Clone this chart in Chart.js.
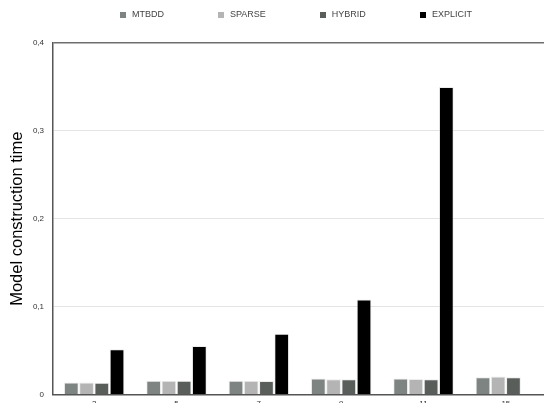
<!DOCTYPE html>
<html>
<head>
<meta charset="utf-8">
<script src="https://cdn.jsdelivr.net/npm/chart.js@4.4.0/dist/chart.umd.min.js"></script>
<style>
  body { margin: 0; overflow: hidden; background: #fff; font-family: "Liberation Sans", Arial, sans-serif; }
  #wrap { position: relative; width: 547px; height: 414px; }
  #legendList { position: absolute; top: 9px; left: 120px; margin: 0; padding: 0; list-style: none; display: flex; gap: 54px; }
  #legendList li { font-size: 9px; color: #444; display: flex; align-items: center; line-height: 11px; }
</style>
</head>
<body>
<div id="wrap">
  <ul id="legendList"></ul>
  <canvas id="buildChart"></canvas>
</div>
<script>
// model size parameter on the x axis
const sizes = ['3', '5', '7', '9', '11', '15'];

// construction time per engine
const mtbdd = [0.0135, 0.0155, 0.0155, 0.018, 0.018, 0.0195];
const sparse = [0.0135, 0.0155, 0.0155, 0.0172, 0.0175, 0.0205];
const hybrid = [0.0133, 0.0155, 0.0153, 0.0172, 0.0172, 0.0195];
const explicit = [0.0513, 0.055, 0.069, 0.108, 0.35, null];

const engines = [
  { name: 'MTBDD', color: '#7e8481', data: mtbdd },
  { name: 'SPARSE', color: '#b4b4b4', data: sparse },
  { name: 'HYBRID', color: '#595e5b', data: hybrid },
  { name: 'EXPLICIT', color: '#000000', data: explicit }
];

const ctx = document.getElementById('buildChart').getContext('2d');
const buildChart = new Chart(ctx, {
  type: 'bar',
  data: {
    labels: sizes,
    datasets: engines.map(e => ({
      label: e.name,
      data: e.data,
      backgroundColor: e.color,
      borderColor: 'rgba(215,215,215,0.45)',
      borderWidth: 1,
      categoryPercentage: 0.74,
      barPercentage: 0.97
    }))
  },
  options: {
    responsive: true,
    maintainAspectRatio: false,
    animation: false,
    layout: { padding: { top: 43, left: 0, right: 0, bottom: 0 } },
    plugins: {
      legend: { display: false },
      tooltip: { enabled: false }
    },
    scales: {
      x: {
        grid: { display: false, drawTicks: false },
        border: { color: '#555', width: 1.5 },
        ticks: {
          color: '#333',
          padding: 5,
          maxRotation: 0,
          autoSkip: false,
          font: { family: 'Liberation Sans', size: 8 }
        }
      },
      y: {
        min: 0,
        max: 0.4,
        afterFit: scale => { scale.width = 53; },
        grid: {
          drawTicks: false,
          color: c => Math.abs(c.tick.value - 0.4) < 1e-6 ? '#6f6f6f' : '#e4e4e4',
          lineWidth: c => Math.abs(c.tick.value - 0.4) < 1e-6 ? 1.5 : 1
        },
        border: { color: '#555', width: 1.5 },
        ticks: {
          stepSize: 0.1,
          color: '#333',
          padding: 9,
          font: { family: 'Liberation Sans', size: 8 },
          callback: v => v === 0 ? '0' : v.toFixed(1).replace('.', ',')
        },
        title: {
          display: true,
          text: 'Model construction time',
          color: '#000',
          padding: { top: 8, bottom: 2 },
          font: { family: 'Liberation Sans', size: 16.5 }
        }
      }
    }
  }
});

// legend drawn by hand above the plot
const legendList = document.getElementById('legendList');
engines.forEach(e => {
  const legendItem = document.createElement('li');
  legendItem.innerHTML = `<span style="background-color: ${e.color}; width: 6px; height: 6px; display: inline-block; margin-right: 6px;"></span>${e.name}`;
  legendList.appendChild(legendItem);
});
</script>
</body>
</html>
